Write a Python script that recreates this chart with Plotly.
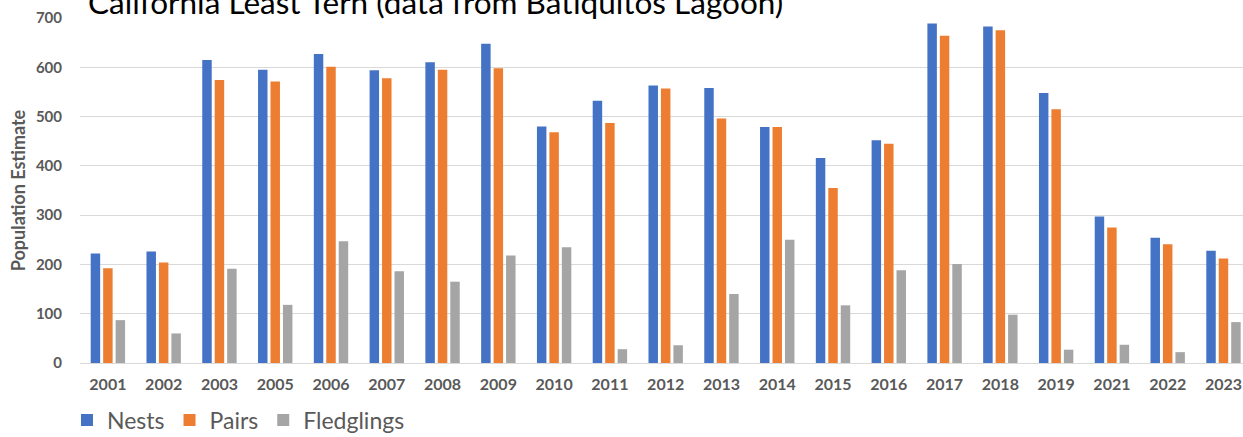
import plotly.graph_objects as go

years = ["2001", "2002", "2003", "2005", "2006", "2007", "2008", "2009", "2010", "2011",
         "2012", "2013", "2014", "2015", "2016", "2017", "2018", "2019", "2021", "2022", "2023"]
nests = [222, 226, 615, 595, 627, 594, 610, 648, 480, 532,
         563, 558, 479, 416, 452, 689, 683, 548, 297, 254, 228]
pairs = [192, 204, 574, 571, 601, 578, 595, 598, 468, 487,
         557, 496, 479, 355, 445, 664, 675, 515, 275, 241, 212]
fledglings = [87, 60, 191, 118, 247, 186, 165, 218, 235, 28,
              36, 140, 250, 117, 188, 201, 98, 27, 37, 22, 83]

series = [("Nests", nests, "#4472C4"), ("Pairs", pairs, "#ED7D31"), ("Fledglings", fledglings, "#A5A5A5")]

fig = go.Figure()
for name, vals, col in series:
    fig.add_trace(go.Bar(x=years, y=vals, name=name, marker=dict(color=col, line=dict(width=0))))

grey = "#595959"
fig.update_layout(
    width=1243, height=437,
    margin=dict(l=80, r=0, t=18, b=74, autoexpand=False),
    paper_bgcolor="white", plot_bgcolor="white",
    barmode="group", bargap=0.33, bargroupgap=0.24,
    font=dict(family="Lato", color=grey),
    showlegend=True,
    legend=dict(orientation="h", x=-0.0112, xanchor="left", y=-0.165, yanchor="middle",
                font=dict(size=23, color=grey, family="Lato"), itemwidth=30,
                traceorder="normal"),
    xaxis=dict(type="category", range=[-0.5, 20.35], showgrid=False, showline=False, zeroline=False,
               automargin=False,
               tickfont=dict(size=16, color=grey, family="Lato", weight="bold"), ticklabelstandoff=10,
               ticks=""),
    yaxis=dict(range=[0, 700], dtick=100, showgrid=True, gridcolor="#D9D9D9", gridwidth=1.3,
               zeroline=True, zerolinecolor="#D9D9D9", zerolinewidth=1.3, automargin=False,
               tickfont=dict(size=15, color=grey, family="Lato", weight="bold"), ticklabelstandoff=17,
               title=dict(text="Population Estimate", font=dict(size=18, color=grey, family="Lato", weight="bold"),
                          standoff=5)),
    annotations=[dict(text="California Least Tern (data from Batiquitos Lagoon)", xref="paper", yref="paper",
                      x=0, xshift=6, y=1, yanchor="middle", yshift=16, xanchor="left", showarrow=False,
                      font=dict(size=31.5, color="black", family="Lato"))],
)

fig.write_html("out.html", config={"displayModeBar": False},
               post_script="document.body.style.margin='0';")
